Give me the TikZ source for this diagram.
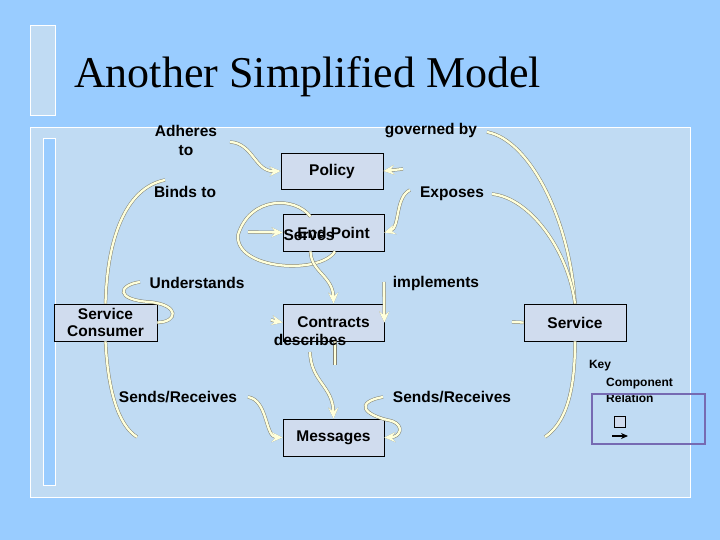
\documentclass[tikz,border=0pt]{standalone}
\usepackage{fontspec}
\setmainfont{Liberation Serif}
\newfontfamily\labfont{Liberation Sans}
\usetikzlibrary{arrows.meta}
\definecolor{bgblue}{RGB}{153,204,255}
\definecolor{panel}{RGB}{192,219,243}
\definecolor{boxfill}{RGB}{208,220,238}
\definecolor{cream}{RGB}{255,255,218}
\definecolor{shade}{RGB}{130,130,115}
\definecolor{keypurple}{RGB}{118,106,178}
\begin{document}
\begin{tikzpicture}[x=1pt,y=-1pt,
 comp/.style={draw=black,line width=0.8pt,fill=boxfill,minimum width=101pt,minimum height=37pt,inner sep=0pt,font=\labfont\bfseries\fontsize{15.5}{18}\selectfont,align=center},
 lab/.style={inner sep=0pt,font=\labfont\bfseries\fontsize{15.5}{19}\selectfont,align=center},
 keylab/.style={inner sep=0pt,font=\labfont\bfseries\fontsize{12}{14}\selectfont},
 conn/.style={draw=cream,line width=2.3pt,preaction={draw=shade,line width=3.3pt}},
 tip/.style={-{Stealth[length=11pt,width=10pt,inset=4pt]}},
]
\fill[bgblue] (0,0) rectangle (720,540);
\useasboundingbox (0,0) rectangle (720,540);
% title bar and panels
\filldraw[fill=panel,draw=white,line width=0.8pt] (30,25) rectangle (55,115);
\filldraw[fill=panel,draw=white,line width=0.8pt] (30,127) rectangle (690,497);
\filldraw[fill=bgblue,draw=white,line width=0.8pt] (43,138) rectangle (55,485);
\node[anchor=base west,inner sep=0pt,font=\fontsize{44}{50}\selectfont] (title) at (74,88) {Another Simplified Model};

% free ends of connectors
\coordinate (cAdh) at (230,142);
\coordinate (cGovL) at (403,169);
\coordinate (cGovR) at (487,132);
\coordinate (cExpL) at (410,190);
\coordinate (cExpR) at (492,194);
\coordinate (cBind) at (165,180);
\coordinate (cBindR) at (248,232);
\coordinate (cUnd) at (140,282);
\coordinate (cUndR) at (271,320);
\coordinate (cImp) at (384,282);
\coordinate (cImpR) at (512,322);
\coordinate (cDesc) at (310,352);
\coordinate (cDescStub) at (335,365);
\coordinate (cSendL) at (137,437);
\coordinate (cSendLR) at (248,397);
\coordinate (cSendR) at (383,397);
\coordinate (cSendRR) at (545,437);

% boxes
\node[comp,minimum width=102pt,minimum height=36pt] (policy) at (332,171) {Policy};
\node[comp] (endpoint) at (333.5,232.5) {End Point};
\node[comp,minimum width=103pt] (consumer) at (105.5,322.5) {Service\\[-1pt]Consumer};
\node[comp] (contracts) at (333.5,322.5) {\raisebox{-1pt}{Contracts}};
\node[comp,minimum width=102pt] (service) at (575,322.5) {Service};
\node[comp] (messages) at (333.5,437.5) {Messages};

% connectors
\draw[conn,tip] (cAdh) .. controls (253,143) and (255,172) .. (policy.west);
\draw[conn,tip] (cGovL) -- (policy.east);
\draw[conn] (cGovR) .. controls (530,140) and (570,220) .. (service.north);
\draw[conn] (cExpR) .. controls (530,198) and (568,250) .. (service.north);
\draw[conn,tip] (cExpL) .. controls (395,197) and (400,228) .. (endpoint.east);
\draw[conn] (consumer.north) .. controls (107,240) and (125,188) .. (cBind);
\draw[conn,tip] (cBindR) -- (endpoint.west);
\draw[conn] ([xshift=-23pt,yshift=-3pt]endpoint.north) .. controls (295,196) and (250,196) .. (238,235)
  .. controls (235,270) and (320,275) .. ([xshift=1.5pt]endpoint.south);
\draw[conn,tip] ([xshift=-23pt]endpoint.south) .. controls (311,272) and (333,276) .. (contracts.north);
\draw[conn,tip] (cImp) -- (contracts.east);
\draw[conn] (service.west) -- (cImpR);
\draw[conn] (cUnd) .. controls (118,285) and (115,300) .. (150,302) .. controls (180,305) and (178,322) .. (consumer.east);
\draw[conn,tip] (cUndR) -- (contracts.west);
\draw[conn] ([xshift=1.5pt]contracts.south) -- (cDescStub);
\draw[conn,tip] (cDesc) .. controls (311,382) and (333,386) .. (messages.north);
\draw[conn] (consumer.south) .. controls (108,390) and (118,425) .. (cSendL);
\draw[conn,tip] (cSendLR) .. controls (268,400) and (265,437) .. (messages.west);
\draw[conn,tip] (cSendR) .. controls (355,402) and (362,415) .. (392,421) .. controls (405,426) and (400,437) .. (messages.east);
\draw[conn] (service.south) .. controls (575,380) and (570,420) .. (cSendRR);

% overlapping texts (as in the reference)
\node[lab] (serves) at (309,235) {Serves};
\node[lab] (describes) at (310,340) {describes};

% labels
\node[lab] (adheres) at (186,140) {Adheres\\to};
\node[lab] (governed) at (431,131) {governed by};
\node[lab] (binds) at (185,192) {Binds to};
\node[lab] (exposes) at (452,194) {Exposes};
\node[lab] (understands) at (197,283) {Understands};
\node[lab] (implements) at (436,283) {implements};
\node[lab] (sendsL) at (178,397) {Sends/Receives};
\node[lab] (sendsR) at (452,397) {Sends/Receives};

% key
\node[keylab] (key) at (600,366) {Key};
\node[keylab,anchor=west] (keycomp) at (606,384) {Component};
\node[keylab,anchor=west] (keyrel) at (606,398) {Relation};
\draw[keypurple,line width=1.8pt] (592,394) rectangle (705,444);
\node[draw=black,line width=0.6pt,fill=boxfill,minimum size=11pt,inner sep=0pt] (keybox) at (619.5,421.5) {};
\coordinate (keyA) at (612,436);
\coordinate (keyB) at (628,436);
\draw[black,line width=1.5pt,-{Stealth[length=7pt,width=6pt]}] (keyA) -- (keyB);
\end{tikzpicture}
\end{document}
